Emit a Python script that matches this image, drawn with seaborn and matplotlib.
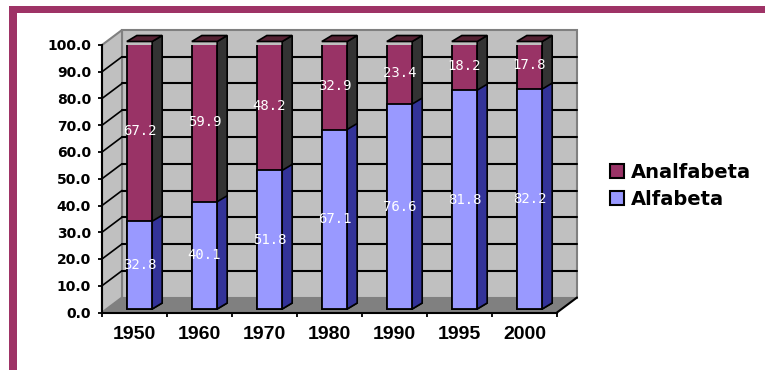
import numpy as np
import pandas as pd
import seaborn as sns
import matplotlib.pyplot as plt
from matplotlib.patches import Polygon, Patch, Rectangle
from matplotlib.ticker import FixedLocator

years = ["1950", "1960", "1970", "1980", "1990", "1995", "2000"]
alfabeta = [32.8, 40.1, 51.8, 67.1, 76.6, 81.8, 82.2]
analfabeta = [67.2, 59.9, 48.2, 32.9, 23.4, 18.2, 17.8]
y_ticks = [0, 10, 20, 30, 40, 50, 60, 70, 80, 90, 100]

MAROON = "#993366"
LAVENDER = "#9999ff"
FRAME = "#9e3366"

df = pd.DataFrame({"year": years, "Alfabeta": alfabeta, "Analfabeta": analfabeta})
df["total"] = df["Alfabeta"] + df["Analfabeta"]

sns.set_style("white")
plt.rcParams["text.color"] = "black"
fig = plt.figure(figsize=(7.65, 3.7), dpi=100)
ax = fig.add_axes([102 / 765, 57.5 / 370, 455 / 765, 267.5 / 370])

# stacked bars: total first, alfabeta drawn over it
sns.barplot(data=df, x="year", y="total", order=years, color=MAROON, saturation=1,
            width=0.39, edgecolor="black", linewidth=1.3, ax=ax)
n_top = len(ax.patches)
sns.barplot(data=df, x="year", y="Alfabeta", order=years, color=LAVENDER, saturation=1,
            width=0.39, edgecolor="black", linewidth=1.3, ax=ax)

ax.set_xlim(-0.5, len(years) - 0.5)
ax.set_ylim(0, 100)


def shift(x, y, dx, dy):
    px, py = ax.transData.transform((x, y))
    return ax.transData.inverted().transform((px + dx, py + dy))


def quad(pts, **kw):
    poly = Polygon(pts, closed=True, clip_on=False, **kw)
    ax.add_patch(poly)
    return poly


# back wall, side wall and floor
WALL = (20, 15)
x0, x1 = ax.get_xlim()
quad([shift(x0, 0, *WALL), shift(x1, 0, *WALL), shift(x1, 100, *WALL), shift(x0, 100, *WALL)],
     facecolor="#c0c0c0", edgecolor="#808080", linewidth=1.5, zorder=0.1)
quad([(x0, 0), (x0, 100), shift(x0, 100, *WALL), shift(x0, 0, *WALL)],
     facecolor="#c0c0c0", edgecolor="#808080", linewidth=1.5, zorder=0.1)
quad([(x0, 0), (x1, 0), shift(x1, 0, *WALL), shift(x0, 0, *WALL)],
     facecolor="#808080", edgecolor="none", zorder=0.2)
fx, fy = shift(x1, 0, *WALL)
ax.plot([x1, fx], [0, fy], color="black", lw=1.5, clip_on=False, zorder=0.3)

for t in y_ticks[1:-1]:
    a = shift(x0, t, *WALL)
    b = shift(x1, t, *WALL)
    ax.plot([a[0], b[0]], [a[1], b[1]], color="black", lw=1.5, clip_on=False, zorder=0.3)
    ax.plot([x0, a[0]], [t, a[1]], color="black", lw=1.2, clip_on=False, zorder=0.3)

# move bars to mid depth and add their side and top faces
FRONT = (5, 3.5)
DEPTH = (10, 6)
for i, p in enumerate(ax.patches[:]):
    if not isinstance(p, Rectangle) or p.get_width() >= 1:
        continue
    bx, by, bw, bh = p.get_x(), p.get_y(), p.get_width(), p.get_height()
    fl = shift(bx, by, *FRONT)
    fr = shift(bx + bw, by, *FRONT)
    tl = shift(bx, by + bh, *FRONT)
    tr = shift(bx + bw, by + bh, *FRONT)
    p.set_xy(fl)
    p.set_width(fr[0] - fl[0])
    p.set_height(tr[1] - fr[1])
    p.set_zorder(3)
    is_top = i < n_top
    side = "#333333" if is_top else "#333399"
    br = shift(fr[0], fr[1], *DEPTH)
    btr = shift(tr[0], tr[1], *DEPTH)
    quad([fr, tr, btr, br], facecolor=side, edgecolor="black", linewidth=1.2, zorder=2.9)
    if is_top:
        btl = shift(tl[0], tl[1], *DEPTH)
        quad([tl, tr, btr, btl], facecolor="#552233", edgecolor="black", linewidth=1.2, zorder=2.9)

# value labels
for i, yr in enumerate(years):
    for bottom, val in [(0, alfabeta[i]), (alfabeta[i], analfabeta[i])]:
        lx, ly = shift(i, bottom + val / 2, *FRONT)
        ax.text(lx, ly, f"{val:.1f}", color="white", ha="center", va="center",
                family="DejaVu Sans Mono", fontsize=10, zorder=5)

# axes
for s in ["top", "right"]:
    ax.spines[s].set_visible(False)
for s in ["left", "bottom"]:
    ax.spines[s].set_color("black")
    ax.spines[s].set_linewidth(1.5)
ax.set_facecolor("none")
ax.set_xlabel("")
ax.set_ylabel("")
ax.set_yticks(y_ticks)
ax.set_yticklabels([f"{t:.1f}" for t in y_ticks], fontsize=10, fontweight="bold",
                   family="DejaVu Sans")
ax.tick_params(axis="y", left=True, length=3, width=1.3, pad=5, color="black",
               labelcolor="black")
ax.set_xticks(range(len(years)))
ax.set_xticklabels(years, fontsize=14, fontweight="bold", family="Liberation Sans")
ax.xaxis.set_minor_locator(FixedLocator(np.arange(len(years) + 1) - 0.5))
ax.tick_params(axis="x", which="major", length=0, pad=10, labelcolor="black")
ax.tick_params(axis="x", which="minor", bottom=True, length=3, width=1.3, color="black")

# legend
handles = [Patch(facecolor=MAROON, edgecolor="black", linewidth=1.5, label="Analfabeta"),
           Patch(facecolor=LAVENDER, edgecolor="black", linewidth=1.5, label="Alfabeta")]
fig.legend(handles=handles, loc="upper left", bbox_to_anchor=(610 / 765, 1 - 163 / 370),
           frameon=False, prop={"family": "DejaVu Sans", "weight": "bold", "size": 14},
           handlelength=0.7, handleheight=0.7, handletextpad=0.4, labelspacing=0.4,
           borderpad=0, borderaxespad=0, labelcolor="black")

# frame
fig.patches.append(Rectangle((9 / 765, 1 - 13 / 370), 1, 7 / 370, transform=fig.transFigure,
                             facecolor=FRAME, edgecolor="none"))
fig.patches.append(Rectangle((9 / 765, 0), 8 / 765, 1 - 6 / 370, transform=fig.transFigure,
                             facecolor=FRAME, edgecolor="none"))

fig.savefig("out.png", dpi=100)
